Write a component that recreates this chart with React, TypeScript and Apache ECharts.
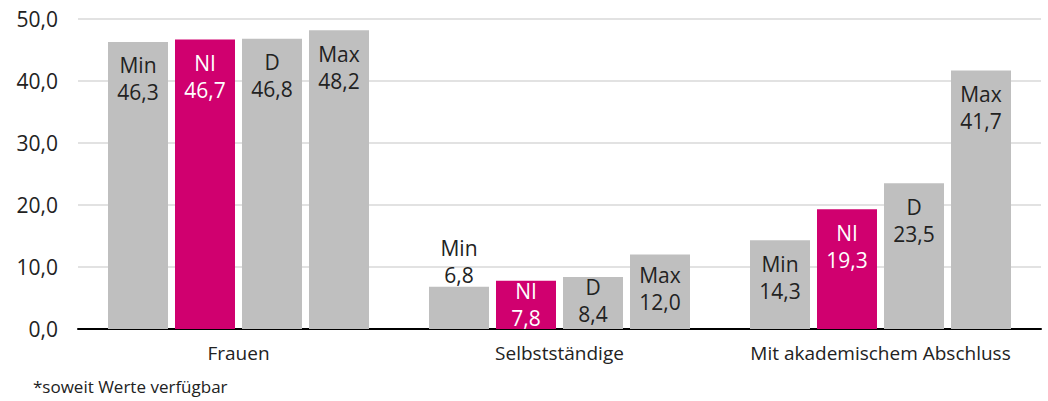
import React, { useEffect, useRef } from "react";
import * as echarts from "echarts";

const categories = ["Frauen", "Selbstständige", "Mit akademischem Abschluss"];
const seriesNames = ["Min", "NI", "D", "Max"];
const minValues = [46.3, 6.8, 14.3];
const niValues = [46.7, 7.8, 19.3];
const dValues = [46.8, 8.4, 23.5];
const maxValues = [48.2, 12.0, 41.7];
const footnote = "*soweit Werte verfügbar";

const GRAY = "#bfbfbf";
const MAGENTA = "#d0006f";
const TEXT = "#222222";
const FONT = "'Open Sans', 'Noto Sans', sans-serif";

const fmt = (v: number) => v.toFixed(1).replace(".", ",");

// label placement tweaks for short bars (series name -> category index -> label override)
const labelOverrides: Record<string, Record<number, any>> = {
  Min: { 1: { position: "top", distance: -2 } },
  NI: { 1: { distance: -3 } },
  D: { 1: { distance: -3 } },
  Max: { 1: { distance: 7 } },
};

export default function App() {
  const ref = useRef<HTMLDivElement>(null);
  useEffect(() => {
    if (!ref.current) return;
    const chart = echarts.init(ref.current, null, { renderer: "svg" });
    const allValues = [minValues, niValues, dValues, maxValues];
    const series = seriesNames.map((name, si) => ({
      name,
      type: "bar",
      barWidth: 60,
      barGap: "11.67%",
      itemStyle: { color: name === "NI" ? MAGENTA : GRAY },
      label: {
        show: true,
        position: "insideTop",
        distance: 10,
        fontFamily: FONT,
        fontSize: 21,
        lineHeight: 27,
        color: name === "NI" ? "#ffffff" : TEXT,
        formatter: (p: any) => `${p.seriesName}\n${fmt(p.value)}`,
      },
      data: allValues[si].map((v, ci) => {
        const ov = labelOverrides[name] && labelOverrides[name][ci];
        return ov ? { value: v, label: ov } : { value: v };
      }),
    }));
    chart.setOption({
      animation: false,
      grid: { left: 78, right: 7, top: 19, bottom: 72, containLabel: false },
      xAxis: {
        type: "category",
        data: categories,
        axisTick: { show: false },
        axisLine: { show: true, lineStyle: { color: "#000000", width: 2 } },
        axisLabel: { color: TEXT, fontFamily: FONT, fontSize: 19, margin: 14, interval: 0 },
      },
      yAxis: {
        type: "value",
        min: 0,
        max: 50,
        interval: 10,
        axisLine: { show: false },
        axisTick: { show: false },
        splitLine: { show: true, lineStyle: { color: "#d9d9d9", width: 1.5 } },
        axisLabel: {
          color: TEXT,
          fontFamily: FONT,
          fontSize: 21,
          margin: 20,
          formatter: (v: number) => fmt(v),
        },
      },
      graphic: [
        {
          type: "text",
          left: 33,
          top: 378,
          style: { text: footnote, fill: TEXT, font: `17px ${FONT}` },
        },
      ],
      series,
    });
    return () => chart.dispose();
  }, []);
  return (
    <div
      ref={ref}
      style={{ position: "fixed", left: 0, top: 0, width: 1048, height: 401, background: "#fff" }}
    />
  );
}
